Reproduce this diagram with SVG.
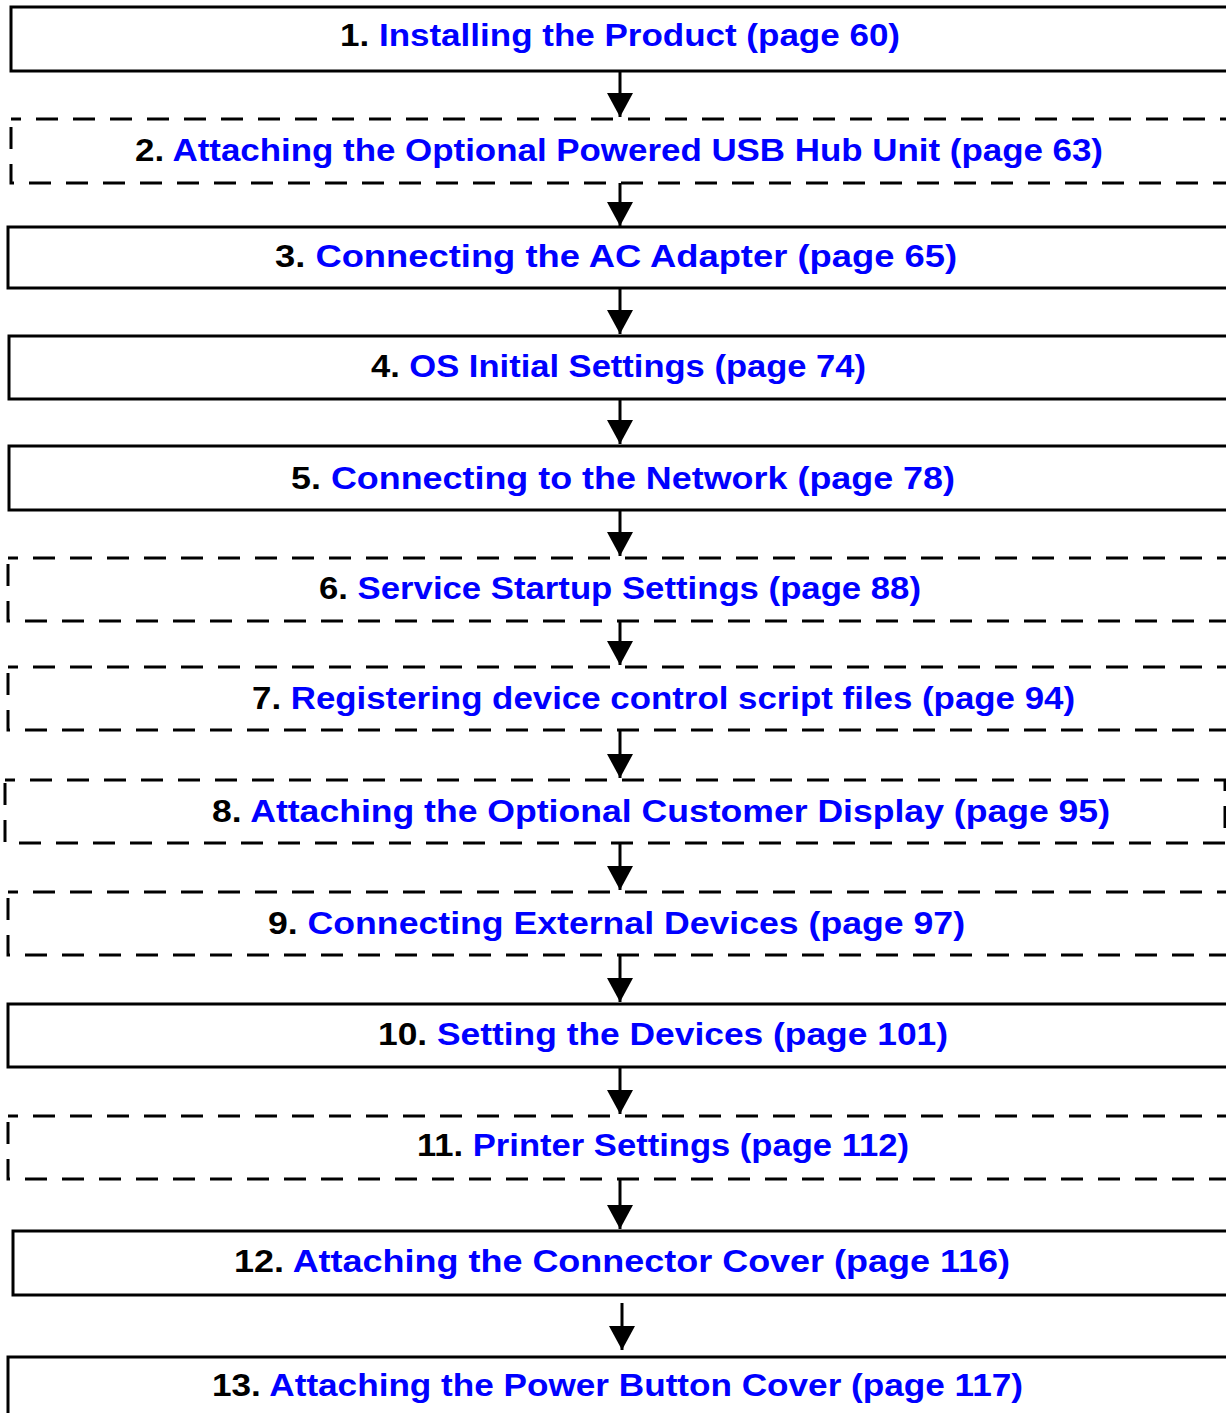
<svg xmlns="http://www.w3.org/2000/svg" width="1226" height="1413" viewBox="0 0 1226 1413">
<defs>
<style>
.box{fill:#fff;stroke:#000;stroke-width:3}
.dash{stroke-dasharray:22 15;stroke-dashoffset:12}
.t{font-family:"Liberation Sans",Arial,sans-serif;font-weight:bold;font-size:32px;fill:#0000ff}
.n{fill:#000}
.c{stroke:#000;stroke-width:3;fill:none}
</style>
<marker id="ah" markerUnits="userSpaceOnUse" markerWidth="24" markerHeight="26" refX="24" refY="13" orient="auto">
<path d="M0,0 L24,13 L0,26 Z" fill="#000"/>
</marker>
</defs>
<rect width="1226" height="1413" fill="#fff"/>
<g id="connectors">
<line class="c" x1="620" y1="71" x2="620" y2="117" marker-end="url(#ah)"/>
<line class="c" x1="620" y1="183" x2="620" y2="226" marker-end="url(#ah)"/>
<line class="c" x1="620" y1="288" x2="620" y2="334" marker-end="url(#ah)"/>
<line class="c" x1="620" y1="399" x2="620" y2="444" marker-end="url(#ah)"/>
<line class="c" x1="620" y1="510" x2="620" y2="556" marker-end="url(#ah)"/>
<line class="c" x1="620" y1="621" x2="620" y2="665" marker-end="url(#ah)"/>
<line class="c" x1="620" y1="730" x2="620" y2="778" marker-end="url(#ah)"/>
<line class="c" x1="620" y1="843" x2="620" y2="890" marker-end="url(#ah)"/>
<line class="c" x1="620" y1="955" x2="620" y2="1002" marker-end="url(#ah)"/>
<line class="c" x1="620" y1="1067" x2="620" y2="1114" marker-end="url(#ah)"/>
<line class="c" x1="620" y1="1179" x2="620" y2="1229" marker-end="url(#ah)"/>
<line class="c" x1="622" y1="1303" x2="622" y2="1350" marker-end="url(#ah)"/>
</g>
<g id="n1"><rect class="box" x="11" y="7" width="1240" height="64"/>
<text class="t" x="340" y="46" textLength="560" lengthAdjust="spacingAndGlyphs"><tspan class="n">1. </tspan>Installing the Product (page 60)</text></g>
<g id="n2"><rect class="box dash" x="11" y="119" width="1240" height="64"/>
<text class="t" x="135" y="161" textLength="968" lengthAdjust="spacingAndGlyphs"><tspan class="n">2. </tspan>Attaching the Optional Powered USB Hub Unit (page 63)</text></g>
<g id="n3"><rect class="box" x="8" y="227" width="1240" height="61"/>
<text class="t" x="275" y="267" textLength="682" lengthAdjust="spacingAndGlyphs"><tspan class="n">3. </tspan>Connecting the AC Adapter (page 65)</text></g>
<g id="n4"><rect class="box" x="9" y="336" width="1240" height="63"/>
<text class="t" x="371" y="377" textLength="495" lengthAdjust="spacingAndGlyphs"><tspan class="n">4. </tspan>OS Initial Settings (page 74)</text></g>
<g id="n5"><rect class="box" x="9" y="446" width="1240" height="64"/>
<text class="t" x="291" y="489" textLength="664" lengthAdjust="spacingAndGlyphs"><tspan class="n">5. </tspan>Connecting to the Network (page 78)</text></g>
<g id="n6"><rect class="box dash" x="8" y="558" width="1240" height="63"/>
<text class="t" x="319" y="599" textLength="602" lengthAdjust="spacingAndGlyphs"><tspan class="n">6. </tspan>Service Startup Settings (page 88)</text></g>
<g id="n7"><rect class="box dash" x="8" y="667" width="1240" height="63"/>
<text class="t" x="252" y="709" textLength="823" lengthAdjust="spacingAndGlyphs"><tspan class="n">7. </tspan>Registering device control script files (page 94)</text></g>
<g id="n8"><rect class="box dash" x="5" y="780" width="1220" height="63"/>
<text class="t" x="212" y="822" textLength="898" lengthAdjust="spacingAndGlyphs"><tspan class="n">8. </tspan>Attaching the Optional Customer Display (page 95)</text></g>
<g id="n9"><rect class="box dash" x="8" y="892" width="1240" height="63"/>
<text class="t" x="268" y="934" textLength="697" lengthAdjust="spacingAndGlyphs"><tspan class="n">9. </tspan>Connecting External Devices (page 97)</text></g>
<g id="n10"><rect class="box" x="8" y="1004" width="1240" height="63"/>
<text class="t" x="378" y="1045" textLength="570" lengthAdjust="spacingAndGlyphs"><tspan class="n">10. </tspan>Setting the Devices (page 101)</text></g>
<g id="n11"><rect class="box dash" x="8" y="1116" width="1240" height="63"/>
<text class="t" x="417" y="1156" textLength="492" lengthAdjust="spacingAndGlyphs"><tspan class="n">11. </tspan>Printer Settings (page 112)</text></g>
<g id="n12"><rect class="box" x="13" y="1231" width="1240" height="64"/>
<text class="t" x="234" y="1272" textLength="776" lengthAdjust="spacingAndGlyphs"><tspan class="n">12. </tspan>Attaching the Connector Cover (page 116)</text></g>
<g id="n13"><rect class="box" x="8" y="1357" width="1240" height="80"/>
<text class="t" x="212" y="1396" textLength="811" lengthAdjust="spacingAndGlyphs"><tspan class="n">13. </tspan>Attaching the Power Button Cover (page 117)</text></g>
</svg>
